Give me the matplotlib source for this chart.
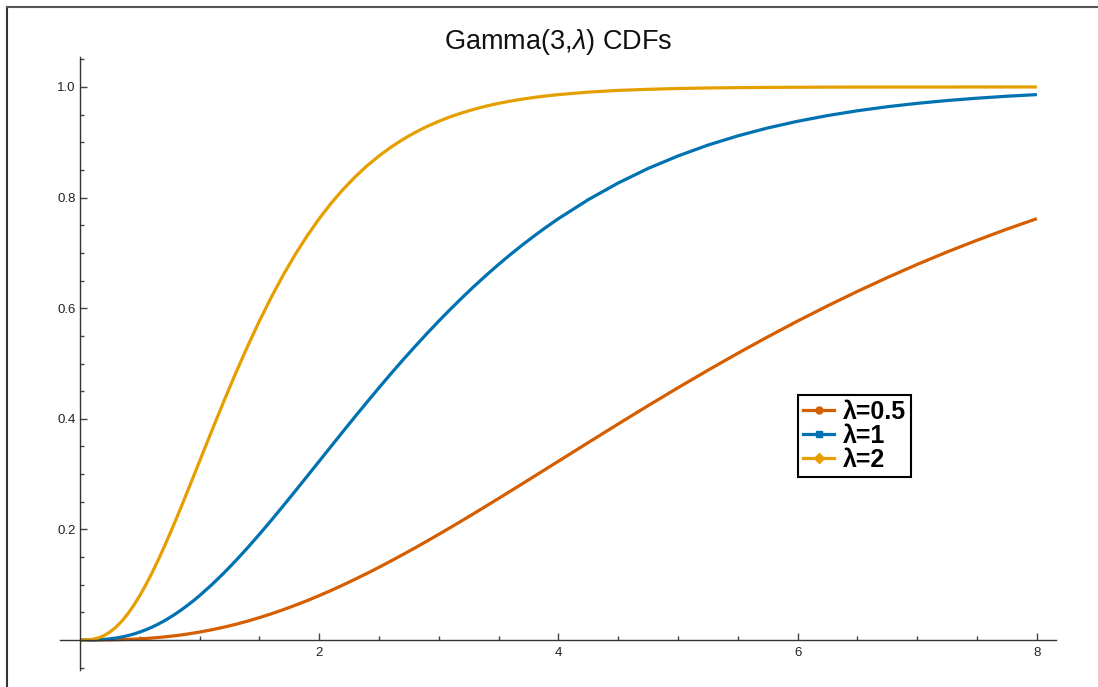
import matplotlib
matplotlib.use("Agg")
import matplotlib.pyplot as plt
from matplotlib.lines import Line2D
from matplotlib.ticker import FixedLocator

plt.rcParams['font.family'] = ['Liberation Sans', 'DejaVu Sans']
plt.rcParams['mathtext.fontset'] = 'custom'
plt.rcParams['mathtext.rm'] = 'Liberation Sans'
plt.rcParams['mathtext.it'] = 'Liberation Sans:italic'

# ---- data ----
x = [0.0, 0.05, 0.1, 0.15, 0.2, 0.25, 0.3, 0.35, 0.4, 0.45, 0.5,
     0.55, 0.6, 0.65, 0.7, 0.75, 0.8, 0.85, 0.9, 0.95, 1.0,
     1.1, 1.2, 1.3, 1.4, 1.5, 1.6, 1.7, 1.8, 1.9, 2.0,
     2.1, 2.2, 2.3, 2.4, 2.5, 2.6, 2.7, 2.8, 2.9, 3.0,
     3.1, 3.2, 3.3, 3.4, 3.5, 3.6, 3.7, 3.8, 3.9, 4.0,
     4.25, 4.5, 4.75, 5.0, 5.25, 5.5, 5.75, 6.0,
     6.25, 6.5, 6.75, 7.0, 7.25, 7.5, 7.75, 8.0]

cdf_lam_05 = [0.0, 0.0, 0.0, 0.0001, 0.0002, 0.0003, 0.0005, 0.0008, 0.0011, 0.0016, 0.0022,
              0.0028, 0.0036, 0.0045, 0.0055, 0.0067, 0.0079, 0.0093, 0.0109, 0.0126, 0.0144,
              0.0185, 0.0231, 0.0283, 0.0341, 0.0405, 0.0474, 0.0549, 0.0629, 0.0713, 0.0803,
              0.0897, 0.0996, 0.1099, 0.1205, 0.1315, 0.1429, 0.1546, 0.1665, 0.1787, 0.1912,
              0.2038, 0.2166, 0.2296, 0.2428, 0.2560, 0.2694, 0.2828, 0.2963, 0.3098, 0.3233,
              0.3571, 0.3907, 0.4238, 0.4562, 0.4878, 0.5185, 0.5482, 0.5768,
              0.6042, 0.6304, 0.6554, 0.6792, 0.7017, 0.7229, 0.7430, 0.7619]

cdf_lam_1 = [0.0, 0.0, 0.0002, 0.0005, 0.0011, 0.0022, 0.0036, 0.0055, 0.0079, 0.0109, 0.0144,
             0.0185, 0.0231, 0.0283, 0.0341, 0.0405, 0.0474, 0.0549, 0.0629, 0.0713, 0.0803,
             0.0996, 0.1205, 0.1429, 0.1665, 0.1912, 0.2166, 0.2428, 0.2694, 0.2963, 0.3233,
             0.3504, 0.3773, 0.4040, 0.4303, 0.4562, 0.4816, 0.5064, 0.5305, 0.5540, 0.5768,
             0.5988, 0.6201, 0.6406, 0.6603, 0.6792, 0.6973, 0.7146, 0.7311, 0.7469, 0.7619,
             0.7963, 0.8264, 0.8527, 0.8753, 0.8949, 0.9116, 0.9259, 0.9380,
             0.9483, 0.9570, 0.9643, 0.9704, 0.9755, 0.9797, 0.9833, 0.9862]

cdf_lam_2 = [0.0, 0.0002, 0.0011, 0.0036, 0.0079, 0.0144, 0.0231, 0.0341, 0.0474, 0.0629, 0.0803,
             0.0996, 0.1205, 0.1429, 0.1665, 0.1912, 0.2166, 0.2428, 0.2694, 0.2963, 0.3233,
             0.3773, 0.4303, 0.4816, 0.5305, 0.5768, 0.6201, 0.6603, 0.6973, 0.7311, 0.7619,
             0.7898, 0.8149, 0.8374, 0.8575, 0.8753, 0.8912, 0.9052, 0.9176, 0.9285, 0.9380,
             0.9464, 0.9537, 0.9600, 0.9656, 0.9704, 0.9745, 0.9781, 0.9812, 0.9839, 0.9862,
             0.9907, 0.9938, 0.9958, 0.9972, 0.9982, 0.9988, 0.9992, 0.9995,
             0.9997, 0.9998, 0.9999, 0.9999, 0.9999, 1.0, 1.0, 1.0]

series_labels = ["\u03bb=0.5", "\u03bb=1", "\u03bb=2"]
series_colors = ['#D55E00', '#0072B2', '#E69F00']
series_markers = ['o', 's', 'D']
x_major = [2, 4, 6, 8]
x_major_labels = ['2', '4', '6', '8']
y_major = [0.2, 0.4, 0.6, 0.8, 1.0]
y_major_labels = ['0.2', '0.4', '0.6', '0.8', '1.0']
title = r"Gamma(3,$\mathit{\lambda}$) CDFs"

# ---- figure ----
fig = plt.figure(figsize=(10.98, 6.87), dpi=100)
ax = fig.add_axes([60/1098, 1-670/687, 996/1098, 613/687])

series = [cdf_lam_05, cdf_lam_1, cdf_lam_2]
for ys, c in zip(series, series_colors):
    ax.plot(x, ys, color=c, lw=2.3, solid_capstyle='butt', solid_joinstyle='round',
            clip_on=False)

ax.set_xlim(-0.167, 8.16)
ax.set_ylim(-0.0542, 1.0542)

for s in ['top', 'right']:
    ax.spines[s].set_visible(False)
ax.spines['left'].set_position(('data', 0))
ax.spines['bottom'].set_position(('data', 0))
for s in ['left', 'bottom']:
    ax.spines[s].set_color('#333333')
    ax.spines[s].set_linewidth(1.0)

ax.xaxis.set_major_locator(FixedLocator(x_major))
ax.set_xticklabels(x_major_labels)
ax.xaxis.set_minor_locator(FixedLocator([v * 0.5 for v in range(1, 16) if v % 4 != 0]))
ax.yaxis.set_major_locator(FixedLocator(y_major))
ax.set_yticklabels(y_major_labels)
ax.yaxis.set_minor_locator(FixedLocator([round(-0.05 + 0.05 * i, 2) for i in range(23)
                                         if round(-0.05 + 0.05 * i, 2) not in (0.0, 0.2, 0.4, 0.6, 0.8, 1.0)]))

ax.tick_params(which='both', direction='in', color='#444444', width=1.0,
               labelsize=9.5, labelcolor='#222222')
ax.tick_params(which='major', length=5)
ax.tick_params(which='minor', length=3)
ax.tick_params(axis='x', which='major', pad=5)
ax.tick_params(axis='y', which='major', pad=3)

fig.text(0.508, 0.939, title, ha='center', va='center', fontsize=19.5, color='#111111')

handles = [Line2D([0], [0], color=c, lw=2.3, marker=m, markersize=5 if m != 's' else 4)
           for c, m in zip(series_colors, series_markers)]
leg = ax.legend(handles, series_labels, loc='upper left',
                bbox_to_anchor=((798-60)/996, (670-395)/613),
                prop={'weight': 'bold', 'size': 18}, frameon=True, fancybox=False,
                edgecolor='black', framealpha=1, handlelength=1.25, handletextpad=0.35,
                labelspacing=0.0, borderpad=0.2, borderaxespad=0)
leg.get_frame().set_linewidth(1.5)

# outer frame lines (left and top)
fig.add_artist(Line2D([6.5/1098, 6.5/1098], [0, 1-7/687], color='#333333', lw=1.5,
                      transform=fig.transFigure))
fig.add_artist(Line2D([6.5/1098, 1], [1-7/687, 1-7/687], color='#555555', lw=1.5,
                      transform=fig.transFigure))

fig.savefig('out.png', dpi=100)
